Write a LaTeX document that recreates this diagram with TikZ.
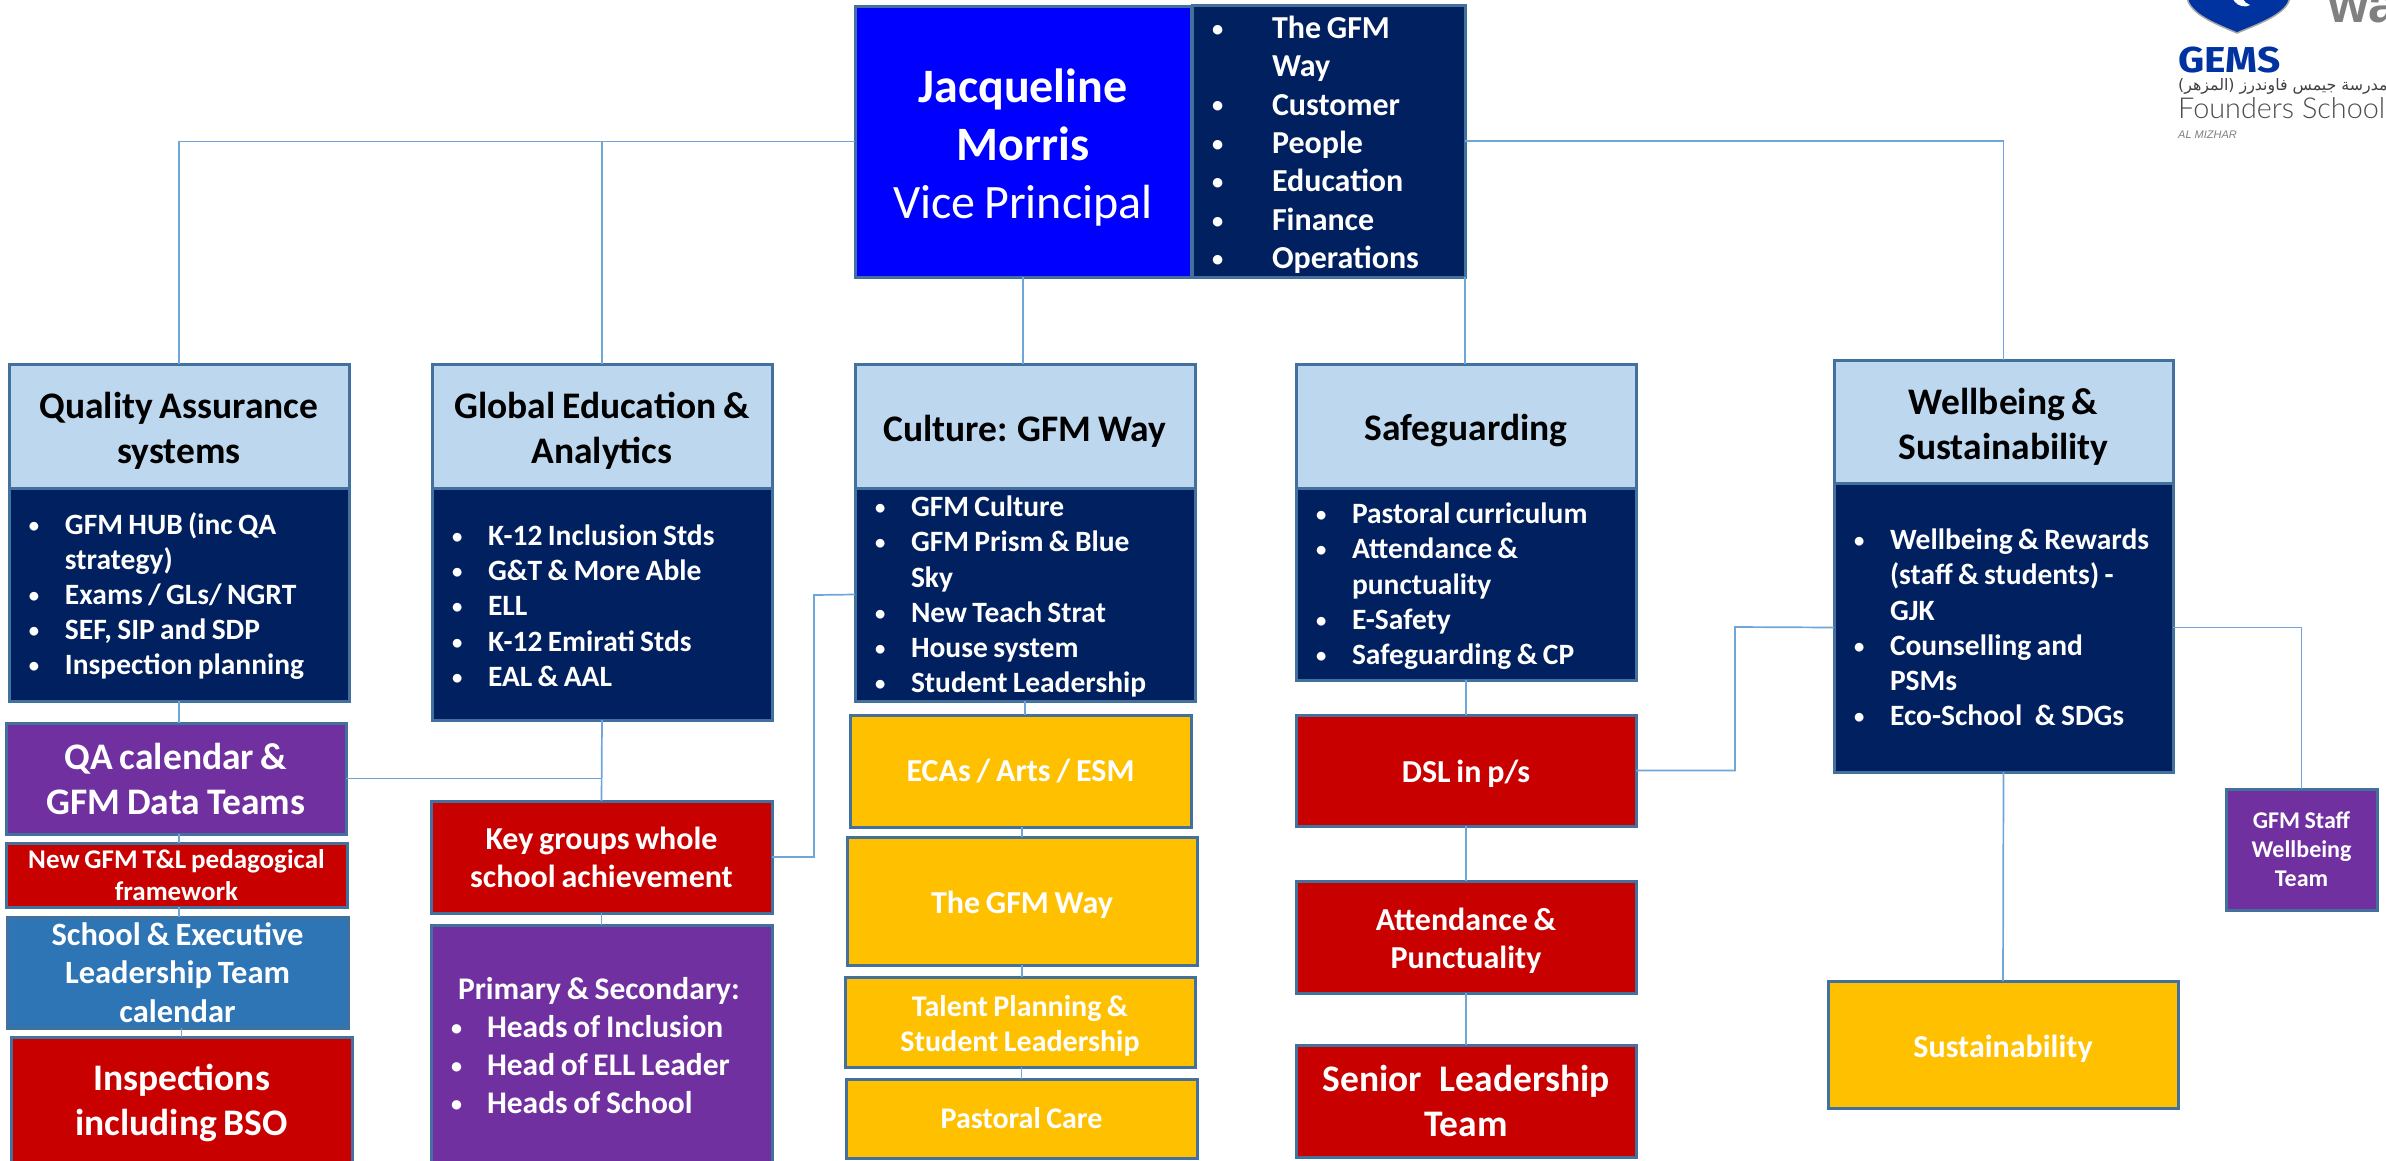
\documentclass[tikz,border=0pt]{standalone}
\usepackage{fontspec}
\usepackage{graphicx}
\setmainfont[WordSpace=0.8]{Carlito}
\TeXXeTstate=1
\newfontfamily\arabicfont[Script=Arabic]{DejaVu Sans}
\newfontfamily\logosans{Liberation Sans}
\newfontfamily\logobold{Fira Sans}
\newfontfamily\logolight{Lato Light}
\definecolor{navy}{HTML}{002060}
\definecolor{vivid}{HTML}{0000FF}
\definecolor{pale}{HTML}{BDD7EE}
\definecolor{violet}{HTML}{7030A0}
\definecolor{crimson}{HTML}{C80000}
\definecolor{steel}{HTML}{2E75B6}
\definecolor{amber}{HTML}{FFC000}
\definecolor{edge}{HTML}{41719C}
\definecolor{wire}{HTML}{6FA5D8}
\definecolor{logoblue}{HTML}{0033A0}
\definecolor{logogray}{HTML}{808080}
\newcommand\li[2][56pt]{\makebox[#1][l]{\hspace{20pt}\raisebox{0.07em}{\scalebox{0.7}{•}}}#2}
\newcommand\ct[2][56pt]{\makebox[#1][l]{}#2}
\newcommand\dn[1]{\rule{0pt}{\dimexpr0.75em+#1pt+#1pt\relax}}
\tikzset{
  box/.style 2 args={anchor=north west,draw=edge,line width=3pt,
    inner sep=0pt,outer sep=0pt,minimum width=#1pt-1pt,minimum height=#2pt,align=center,text=white},
  listbox/.style={align=flush left,text width=#1pt-1pt},
  fs/.style 2 args={font=\bfseries\fontsize{#1}{#2}\selectfont},
  hdr/.style={fill=pale,text=black,fs={37.5}{45}},
  bodybox/.style={fill=navy,fs={29.5}{35.2}},
  wirestyle/.style={draw=wire,line width=1.7pt},
  logotext/.style={inner sep=0pt,anchor=base west}
}
\begin{document}
\begin{tikzpicture}[x=1pt,y=-1pt]
\useasboundingbox (0,0) rectangle (2386,1160);
\clip (0,0) rectangle (2386,1160);
% top
\node[box={337}{271},fill=vivid,fs={48}{58}] (main) at (855,6) {\dn{5}Jacqueline\\Morris\\{\mdseries Vice Principal}};
\node[box={274}{272},listbox=274,fill=navy,fs={32}{38.4}] (nav) at (1192,5) {\dn{3}\li[80pt]{The GFM}\\\ct[80pt]{Way}\\\li[80pt]{Customer}\\\li[80pt]{People}\\\li[80pt]{Education}\\\li[80pt]{Finance}\\\li[80pt]{Operations}};
% QA column
\node[box={341}{124},hdr] (qah) at (9,364) {\dn{4}Quality Assurance\\systems};
\node[box={341}{213},listbox=341,bodybox] (qab) at (9,488) {\dn{1.5}\li{GFM HUB (inc QA}\\\ct{strategy)}\\\li{Exams / GLs/ NGRT}\\\li{SEF, SIP and SDP}\\\li{Inspection planning}};
\node[box={341}{111},fill=violet,fs={37.5}{45}] (cal) at (6,723) {QA calendar \&\\GFM Data Teams};
\node[box={342}{64},fill=crimson,fs={27}{32}] (tl) at (6,843) {New GFM T\&L pedagogical\\framework};
\node[box={342}{111},fill=steel,fs={32.5}{38.5}] (sch) at (7,917) {School \& Executive\\Leadership Team\\calendar};
\node[box={342}{132},fill=crimson,fs={37.5}{45}] (ins) at (11,1037) {Inspections\\including BSO};
% Global column
\node[box={341}{124},hdr] (gh) at (432,364) {\dn{4}Global Education \&\\Analytics};
\node[box={341}{232},listbox=341,bodybox] (gb) at (432,488) {\dn{1}\li{K-12 Inclusion Stds}\\\li{G\&T \& More Able}\\\li{ELL}\\\li{K-12 Emirati Stds}\\\li{EAL \& AAL}};
\node[box={342}{112},fill=crimson,fs={32}{38}] (key) at (431,801) {Key groups whole\\school achievement};
\node[box={342}{242},listbox=342,fill=violet,fs={31.5}{38}] (prim) at (431,925) {\hspace{27pt}Primary \& Secondary:\\\li{Heads of Inclusion}\\\li{Head of ELL Leader}\\\li{Heads of School}};
% Culture column
\node[box={341}{124},hdr] (culh) at (855,364) {\dn{4}Culture: GFM Way};
\node[box={341}{213},listbox=341,bodybox] (culb) at (855,488) {\dn{1.5}\li{GFM Culture}\\\li{GFM Prism \& Blue}\\\ct{Sky}\\\li{New Teach Strat}\\\li{House system}\\\li{Student Leadership}};
\node[box={342}{112},fill=amber,fs={32}{38}] (eca) at (850,715) {ECAs / Arts / ESM};
\node[box={351}{128},fill=amber,fs={32}{38}] (way) at (847,837) {\dn{3}The GFM Way};
\node[box={351}{90},fill=amber,fs={30}{35}] (tal) at (845,977) {\dn{3}Talent Planning \&\\Student Leadership};
\node[box={352}{79},fill=amber,fs={30}{35}] (past) at (846,1079) {Pastoral Care};
% Safeguarding column
\node[box={341}{124},hdr] (safh) at (1296,364) {\dn{4}Safeguarding};
\node[box={341}{192},listbox=341,bodybox] (safb) at (1296,488) {\dn{1.5}\li{Pastoral curriculum}\\\li{Attendance \&}\\\ct{punctuality}\\\li{E-Safety}\\\li{Safeguarding \& CP}};
\node[box={341}{111},fill=crimson,fs={32}{38}] (dsl) at (1296,715) {\dn{3}DSL in p/s};
\node[box={341}{112},fill=crimson,fs={32}{38}] (att) at (1296,881) {\dn{3}Attendance \&\\Punctuality};
\node[box={341}{112},fill=crimson,fs={37.5}{45}] (sen) at (1296,1045) {Senior\hspace{0.3em} Leadership\\Team};
% Wellbeing column
\node[box={340}{123},hdr] (welh) at (1834,360) {\dn{4}Wellbeing \&\\Sustainability};
\node[box={340}{289},listbox=340,bodybox] (welb) at (1834,483) {\li{Wellbeing \& Rewards}\\\ct{(staff \& students) -}\\\ct{GJK}\\\li{Counselling and}\\\ct{PSMs}\\\li{Eco-School\hspace{0.25em} \& SDGs}};
\node[box={351}{127},fill=amber,fs={32}{38}] (sus) at (1828,981) {\dn{3}Sustainability};
\node[box={152}{121},fill=violet,fs={24}{29}] (staff) at (2226,789) {GFM Staff\\Wellbeing\\Team};
% free bends
\coordinate (bendkey) at (814,595);
\coordinate (bendwel) at (1735,627);
% connectors
\draw[wirestyle] (main.west) -| (qah.north);
\draw[wirestyle] (main.west) -| (gh.north);
\draw[wirestyle] (main.south) -- (main.south |- culh.north);
\draw[wirestyle] (nav.south east) -- (nav.south east |- safh.north);
\draw[wirestyle] (nav.east) -| (welh.north);
\draw[wirestyle] (qab.south) -- (qab.south |- cal.north);
\draw[wirestyle] (qab.south |- cal.south) -- (qab.south |- tl.north);
\draw[wirestyle] (qab.south |- tl.south) -- (qab.south |- sch.north);
\draw[wirestyle] (ins.north) -- (ins.north |- sch.south);
\draw[wirestyle] (cal.east) -- (cal.east -| gb.south);
\draw[wirestyle] (gb.south) -- (key.north);
\draw[wirestyle] (key.south) -- (prim.north);
\draw[wirestyle] (key.east) -| (bendkey) -- (culb.west);
\draw[wirestyle] (culb.south) -- (culb.south |- eca.north);
\draw[wirestyle] (way.north) -- (way.north |- eca.south);
\draw[wirestyle] (way.south) -- (way.south |- tal.north);
\draw[wirestyle] (past.north) -- (past.north |- tal.south);
\draw[wirestyle] (safb.south) -- (dsl.north);
\draw[wirestyle] (dsl.south) -- (att.north);
\draw[wirestyle] (att.south) -- (sen.north);
\draw[wirestyle] (dsl.east) -| (bendwel) -- (welb.west);
\draw[wirestyle] (welb.east) -| (staff.north);
\draw[wirestyle] (welb.south) -- (sus.north);
% logo
\fill[logoblue,draw=logogray!70,line width=1.5pt] (2187,-3) -- (2290,-3) .. controls (2288,14) and (2258,24) .. (2237,33) .. controls (2216,24) and (2189,14) .. (2187,-3) -- cycle;
\fill[white] (2232,-2) -- (2243,-2) .. controls (2244,2) and (2247,4) .. (2250,5) .. controls (2246,8) and (2238,6) .. (2235,2) -- cycle;
\node[logotext,text=logogray,font=\logosans\bfseries\fontsize{52}{52}\selectfont] (lwa) at (2328,22) {wa};
\node[logotext,text=logoblue,font=\logobold\bfseries\fontsize{36}{36}\selectfont] (lgems) at (2178,72) {\scalebox{1.13}[1]{GEMS}};
\node[logotext,text=black!75,font=\arabicfont\fontsize{15.8}{15.8}\selectfont] (larab) at (2178,90) {\beginR مدرسة جيمس فاوندرز (المزهر)\endR};
\node[logotext,text=black!70,font=\logolight\fontsize{28.8}{28.8}\selectfont] (lfound) at (2178,118) {Founders School};
\node[logotext,text=logogray,font=\logosans\itshape\fontsize{11}{11}\selectfont] (lmiz) at (2178,138) {AL MIZHAR};
\end{tikzpicture}
\end{document}
